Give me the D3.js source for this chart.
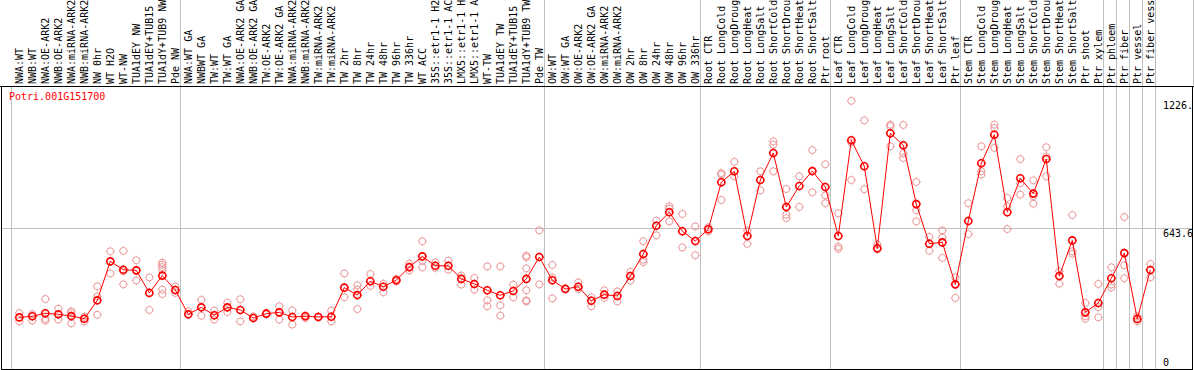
<!DOCTYPE html>
<html>
<head>
<meta charset="utf-8">
<script src="https://cdn.jsdelivr.net/npm/d3@7"></script>
<style>
body { margin: 0; background: #fff; }
svg { display: block; font-family: "DejaVu Sans Mono", monospace; font-size: 10px; }
.grid { stroke: #c0c0c0; stroke-width: 1; shape-rendering: crispEdges; }
.frame { stroke: #000; stroke-width: 1; shape-rendering: crispEdges; }
.rep { fill: none; stroke: #ec9a9a; stroke-width: 1; }
.mean { fill: none; stroke: #f00; stroke-width: 1.6; }
.trend { fill: none; stroke: #f00; stroke-width: 1; }
</style>
</head>
<body>
<svg width="1194" height="370"></svg>
<script>
var gene = "Potri.001G151700";

var labels = [
  "NWA:WT", "NWB:WT", "NWA:OE-ARK2", "NWB:OE-ARK2", "NWA:miRNA-ARK2", "NWB:miRNA-ARK2",
  "NW 0hr", "WT H2O", "WT-NW", "TUA1dEY NW", "TUA1dEY+TUB15 NW", "TUA1dY+TUB9 NW", "Pde NW",
  "NWA:WT GA", "NWBWT GA", "TW:WT", "TW:WT GA", "NWA:OE-ARK2 GA", "NWB:OE-ARK2 GA",
  "TW:OE-ARK2", "TW:OE-ARK2 GA", "NWA:miRNA-ARK2 GA", "NWB:miRNA-ARK2 GA", "TW:miRNA-ARK2",
  "TW:miRNA-ARK2 GA", "TW 2hr", "TW 8hr", "TW 24hr", "TW 48hr", "TW 96hr", "TW 336hr",
  "WT ACC", "35S::etr1-1 H2O", "35S::etr1-1 ACC", "LMX5::etr1-1 H2O", "LMX5::etr1-1 ACC",
  "WT-TW", "TUA1dEY TW", "TUA1dEY+TUB15 TW", "TUA1dY+TUB9 TW", "Pde TW",
  "OW:WT", "OW:WT GA", "OW:OE-ARK2", "OW:OE-ARK2 GA", "OW:miRNA-ARK2", "OW:miRNA-ARK2 GA",
  "OW 2hr", "OW 8hr", "OW 24hr", "OW 48hr", "OW 96hr", "OW 336hr",
  "Root CTR", "Root LongCold", "Root LongDrought", "Root LongHeat", "Root LongSalt",
  "Root ShortCold", "Root ShortDrought", "Root ShortHeat", "Root ShortSalt", "Ptr root",
  "Leaf CTR", "Leaf LongCold", "Leaf LongDrought", "Leaf LongHeat", "Leaf LongSalt",
  "Leaf ShortCold", "Leaf ShortDrought", "Leaf ShortHeat", "Leaf ShortSalt", "Ptr leaf",
  "Stem CTR", "Stem LongCold", "Stem LongDrought", "Stem LongHeat", "Stem LongSalt",
  "Stem ShortCold", "Stem ShortDrought", "Stem ShortHeat", "Stem ShortSalt", "Ptr shoot",
  "Ptr xylem", "Ptr phloem", "Ptr fiber", "Ptr vessel", "Ptr fiber vessel"
];

// mean expression per sample
var means = [
  236, 241, 255, 250, 242, 230, 314, 492, 454, 451, 348, 427, 361,
  250, 282, 246, 282, 270, 233, 253, 259, 238, 241, 238, 239, 372, 338, 401, 376, 406, 466,
  515, 472, 472, 412, 389, 360, 337, 357, 412, 512,
  406, 366, 376, 312, 340, 334, 425, 526, 655, 717, 630, 585,
  639, 854, 904, 608, 864, 988, 741, 837, 905, 832,
  608, 1046, 927, 552, 1078, 1023, 754, 573, 579, 387,
  677, 941, 1071, 717, 872, 802, 960, 425, 588, 259,
  302, 415, 530, 229, 453
];

// individual replicates per sample
var reps = [
  [256, 218], [251, 221], [320, 229, 221], [276, 226], [264, 256, 209], [239, 218],
  [378, 332, 248], [538, 437], [540, 447, 387], [497, 405], [419, 270],
  [486, 477, 466, 451, 363, 343], [378, 348],
  [264], [316, 244], [267, 226], [303, 261], [319, 218], [241], [250, 256], [287, 226],
  [268, 203], [245, 233], [236, 240], [267, 218], [437, 328], [383, 363, 274], [434, 380],
  [390, 351], [400, 412], [482, 451], [584, 495, 465], [488, 462], [495, 454], [427, 386],
  [416, 363], [469, 314, 287], [469, 291, 244], [386, 328], [518, 511, 460, 360, 314, 309],
  [634, 387],
  [476, 419, 323], [370], [396, 366], [328, 287], [360, 325], [355, 309], [444, 404],
  [584, 500, 489], [678, 611], [744, 733, 675], [709, 556], [652, 520],
  [648, 629], [896, 889, 773], [947, 881], [633, 572], [904, 817], [1041, 1026, 904],
  [823, 706, 690], [881, 741], [1001, 808], [936, 794, 758],
  [712, 559, 550], [1226, 1035, 864], [1137, 822], [569, 546], [1117, 1110, 1018],
  [1116, 986, 965], [855, 726, 675], [604, 541], [634, 601, 508], [419, 325],
  [758, 617], [1018, 904, 889], [1117, 1102, 1011], [782, 744, 640], [960, 850, 797],
  [863, 790, 756], [1014, 972, 881], [447, 390], [704, 538, 527], [302, 241, 229],
  [389, 283, 236], [465, 386, 373], [695, 474, 415], [241, 218], [480, 419]
];

// sample index where each group starts (last entry = end)
var groupBreaks = [0, 13, 41, 53, 63, 73, 84, 85, 86, 87, 88];

var yTicks = [1226, 643.6, 0];
var yTickText = ["1226.", "643.6", "0"];
var yTop = 1287.2;

var W = 1194, H = 370;
var plotTop = 87, plotBottom = 369, plotLeft = 2, plotRight = 1193;

var svg = d3.select("svg");

var x = d3.scaleBand().domain(d3.range(labels.length)).range([11, 1155]);
var y = d3.scaleLinear().domain([0, yTop]).range([plotBottom, plotTop + 0.5]);

function px(i) { return x(i) + 8.3; }
function bx(k) {
  var v = k < labels.length ? x(k) : x.range()[1];
  return Math.round(v) + 0.5;
}

var g = {
  grid: svg.append("g").attr("id", "grid"),
  frame: svg.append("g").attr("id", "frame"),
  labels: svg.append("g").attr("id", "labels"),
  reps: svg.append("g").attr("id", "reps"),
  trend: svg.append("g").attr("id", "trend"),
  means: svg.append("g").attr("id", "means"),
  axis: svg.append("g").attr("id", "axis")
};

// group separators in the plot area
g.grid.selectAll("line.vplot")
  .data(groupBreaks)
  .enter()
  .append("line")
  .attr("class", "grid vplot")
  .attr("x1", bx).attr("x2", bx)
  .attr("y1", plotTop).attr("y2", plotBottom);

// same separators run up through the label area (not the first one)
g.grid.selectAll("line.vlab")
  .data(groupBreaks.slice(1))
  .enter()
  .append("line")
  .attr("class", "grid vlab")
  .attr("x1", bx).attr("x2", bx)
  .attr("y1", 0).attr("y2", plotTop);

g.grid.append("line")
  .attr("class", "grid")
  .attr("x1", plotRight + 0.5).attr("x2", plotRight + 0.5)
  .attr("y1", 0).attr("y2", plotTop);

// middle horizontal line
g.grid.append("line")
  .attr("class", "grid")
  .attr("x1", plotLeft).attr("x2", plotRight)
  .attr("y1", Math.round(y(yTicks[1])) + 0.5)
  .attr("y2", Math.round(y(yTicks[1])) + 0.5);

// frame
g.frame.append("line").attr("class", "frame")
  .attr("x1", 0).attr("x2", W).attr("y1", plotTop - 0.5).attr("y2", plotTop - 0.5);
g.frame.append("line").attr("class", "frame")
  .attr("x1", plotLeft - 0.5).attr("x2", plotLeft - 0.5).attr("y1", plotTop - 0.5).attr("y2", plotBottom + 0.5);
g.frame.append("line").attr("class", "frame")
  .attr("x1", plotLeft - 0.5).attr("x2", plotRight).attr("y1", plotBottom + 0.5).attr("y2", plotBottom + 0.5);
g.frame.append("line").attr("class", "frame")
  .attr("x1", plotRight - 0.5).attr("x2", plotRight - 0.5).attr("y1", plotTop - 0.5).attr("y2", plotBottom + 0.5);

// rotated sample labels
g.labels.selectAll("text")
  .data(labels)
  .enter()
  .append("text")
  .attr("transform", function(d, i) { return translate(px(i) + 3.6, plotTop - 3) + " rotate(-90)"; })
  .attr("fill", "#000")
  .text(function(d) { return d; });

// gene name
svg.append("text")
  .attr("x", 9)
  .attr("y", 100)
  .attr("fill", "#f00")
  .text(gene);

// replicate circles
var repPts = [];
reps.forEach(function(r, i) {
  r.forEach(function(v) { repPts.push({ i: i, v: v }); });
});

var repMarks = g.reps.selectAll("g")
  .data(repPts)
  .enter()
  .append("g")
  .attr("class", "rep")
  .attr("transform", function(d) { return translate(px(d.i), y(d.v)); });
marker(repMarks, 3.5);

// line through the means
var line = d3.line()
  .x(function(d, i) { return px(i); })
  .y(function(d) { return y(d); });

g.trend.append("path")
  .datum(means)
  .attr("class", "trend")
  .attr("d", line);

var meanMarks = g.means.selectAll("g")
  .data(means)
  .enter()
  .append("g")
  .attr("class", "mean")
  .attr("transform", function(d, i) { return translate(px(i), y(d)); });
marker(meanMarks, 3.5);

// value labels on the right
g.axis.selectAll("text")
  .data(yTicks)
  .enter()
  .append("text")
  .attr("x", 1163)
  .attr("y", function(d) { return d === 0 ? y(d) - 3.5 : y(d) + 8.5; })
  .attr("fill", "#000")
  .text(function(d, i) { return yTickText[i]; });

function marker(sel, r) {
  sel.append("circle").attr("r", r);
  sel.append("path")
    .style("stroke-width", 1)
    .attr("d", "M0," + (-r) + "v-1M0," + r + "v1M" + (-r) + ",0h-1M" + r + ",0h1");
}

function translate(x, y) {
  return "translate(" + String(x) + "," + String(y) + ")";
}
</script>
</body>
</html>
